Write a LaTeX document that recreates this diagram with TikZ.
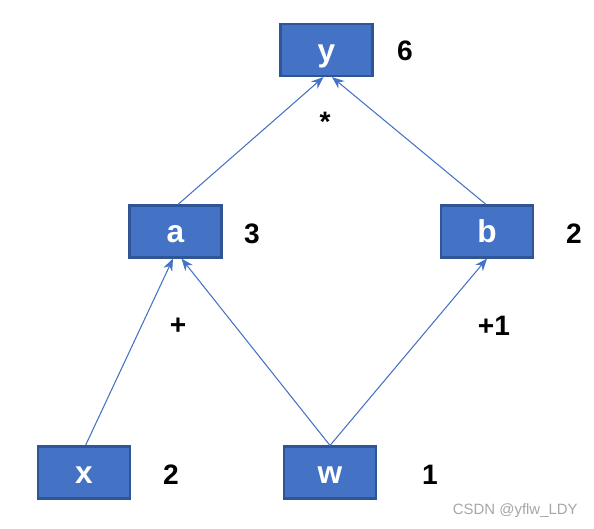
\documentclass[tikz,border=0pt]{standalone}
\usepackage{fontspec}
\setmainfont{Liberation Sans}
\usepackage{xcolor}
\usetikzlibrary{calc,positioning,arrows.meta}
\definecolor{boxblue}{HTML}{4472C4}
\definecolor{boxedge}{HTML}{2F5597}
\begin{document}
\begin{tikzpicture}[x=0.02cm, y=-0.02cm,
  var/.style={draw=boxedge, line width=1.2pt, fill=boxblue, text=white,
              minimum width=1.84cm, minimum height=1.04cm, inner sep=0pt,
              text height=13pt, text depth=0pt,
              font=\fontsize{18}{18}\selectfont\bfseries},
  val/.style={font=\fontsize{16}{16}\selectfont\bfseries, inner sep=0pt},
  link/.style={draw=boxblue, line width=0.6pt, -{Stealth[length=7pt,width=5.5pt]}}]
\useasboundingbox (0,0) rectangle (594,528);
\node[var] (y) at (326.5,50) {y};
\node[var] (a) at (175.5,231.5) {a};
\node[var] (b) at (487,231.5) {b};
\node[var] (x) at (84,472.5) {x};
\node[var] (w) at (330,472.5) {w};
% values next to the boxes
\node[val] (vy) at (405,51) {6};
\node[val] (va) at (252,234) {3};
\node[val] (vb) at (574,234) {2};
\node[val] (vx) at (171,475) {2};
\node[val] (vw) at (430,475) {1};
% operators
\node[val] (mul) at (325,122) {*};
\node[val] (add) at (178,326) {+};
\node[val] (inc) at (494,326) {+1};
\draw[link] ($(a.north)+(2.5,0)$) -- ($(y.south)+(-3,0)$);
\draw[link] ($(b.north)+(-1,0)$) -- ($(y.south)+(5.5,0)$);
\draw[link] ($(x.north)+(1.5,0)$) -- ($(a.south)+(-2.5,0)$);
\draw[link] (w.north) -- ($(a.south)+(6,0)$);
\draw[link] (w.north) -- (b.south);
\node[text=gray!70, font=\fontsize{8.5}{8.5}\selectfont, anchor=east, inner sep=0pt] (mark) at (578,511) {CSDN @yflw\_LDY};
\end{tikzpicture}
\end{document}
